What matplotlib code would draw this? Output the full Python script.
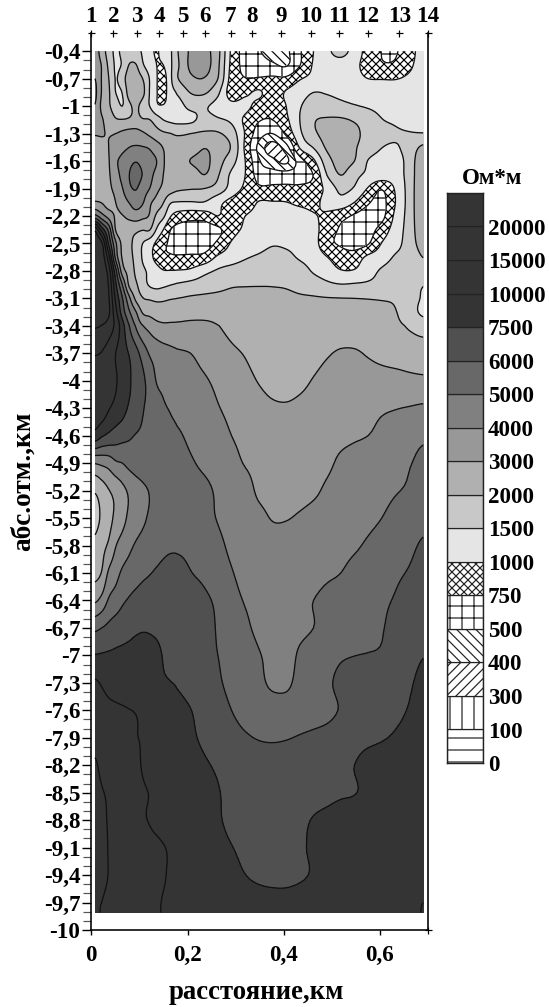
import numpy as np
import matplotlib
matplotlib.use('Agg')
from matplotlib import pyplot as plt

W, H = 549, 1007
DPI = 144

plt.rcParams['font.family'] = ['Liberation Serif', 'DejaVu Serif']
plt.rcParams['font.weight'] = 'bold'
plt.rcParams['hatch.linewidth'] = 0.6
plt.rcParams['hatch.color'] = 'black'

# distance along profile, km
dist = [.0077, .0215, .0361, .0506, .0644, .0790, .0928, .1067, .1212, .1358, .1496,
        .1641, .1780, .2064, .2348, .2631, .2915, .3199, .3483, .3767, .4051, .4334,
        .4618, .4902, .5186, .5470, .5753, .6037, .6321, .6605, .6896]

# elevation of the rows, km
elev = [-0.4, -0.55, -0.7, -0.85, -1.0, -1.15, -1.3, -1.45, -1.6, -1.75, -1.9, -2.05,
        -2.2, -2.35, -2.5, -2.65, -2.8, -2.95, -3.1, -3.25, -3.4,
        -3.7, -4.0, -4.3, -4.6, -4.9, -5.2, -5.5, -5.8, -6.1, -6.4, -6.7, -7.0, -7.3,
        -7.6, -7.9, -8.2, -8.5, -8.8, -9.1, -9.4, -9.7, -9.81]

# resistivity, Ohm*m, one row per elevation
rho = [
    [3400, 2600, 1750, 1420, 1600, 1700, 1600, 1450, 1150, 980, 1200, 1420, 1950, 3150, 3300, 2300, 950, 650, 520, 460, 480, 720, 1000, 1400, 1650, 1300, 900, 745, 730, 900, 1200],
    [3400, 2950, 1900, 1440, 1550, 2050, 2050, 1560, 1250, 1000, 1000, 1400, 1900, 3200, 3400, 2200, 930, 680, 620, 540, 490, 740, 1050, 1250, 1300, 1120, 900, 780, 790, 950, 1200],
    [4000, 2950, 2020, 1480, 1800, 2500, 2500, 2000, 1480, 1030, 900, 1380, 1950, 2800, 2950, 2000, 900, 760, 770, 790, 800, 980, 1120, 1200, 1250, 1150, 1000, 990, 990, 1080, 1200],
    [4200, 2950, 2150, 1500, 1520, 2500, 2900, 2300, 1480, 1030, 900, 1300, 1550, 2050, 2150, 1600, 880, 950, 1060, 880, 1050, 1300, 1500, 1470, 1420, 1350, 1300, 1250, 1200, 1200, 1200],
    [3950, 2800, 2150, 1750, 1500, 1900, 2200, 1800, 1500, 1080, 1040, 1180, 1300, 1620, 1560, 1350, 1150, 1130, 910, 840, 1000, 1460, 1680, 1640, 1600, 1530, 1450, 1350, 1260, 1200, 1200],
    [3400, 3100, 2550, 2100, 2050, 2120, 2300, 2080, 2020, 1750, 1500, 1400, 1350, 1400, 1650, 1560, 1400, 950, 770, 750, 950, 1500, 1950, 2120, 2120, 1950, 1780, 1520, 1420, 1320, 1260],
    [3050, 3050, 2950, 3000, 3200, 3400, 3400, 3150, 2800, 2400, 2150, 2020, 1950, 2000, 2150, 2100, 1750, 980, 620, 500, 800, 1400, 1900, 2300, 2400, 2200, 1850, 1700, 1560, 1530, 1520],
    [2700, 2800, 3000, 3300, 3700, 4000, 4100, 4050, 3900, 3450, 2950, 2500, 2250, 2300, 2950, 2500, 1950, 950, 470, 350, 460, 1050, 1530, 2150, 2450, 2100, 1750, 1510, 1450, 1700, 2200],
    [2600, 2750, 2950, 3800, 4300, 4700, 4950, 4650, 4300, 4000, 3100, 2600, 2300, 3050, 3300, 2400, 1700, 1000, 530, 430, 380, 640, 950, 1800, 2350, 2000, 1480, 1350, 1300, 1700, 2800],
    [2500, 2700, 2900, 3600, 4300, 5000, 5400, 4950, 4300, 3700, 3000, 2500, 2200, 2300, 3000, 2100, 1400, 1000, 640, 620, 620, 640, 760, 1520, 2020, 1650, 1400, 1300, 1280, 1700, 2900],
    [2350, 2550, 2800, 3300, 3950, 4800, 5050, 4500, 4000, 3250, 2800, 2450, 2150, 2050, 2000, 1800, 1300, 950, 800, 800, 800, 800, 850, 1150, 1620, 1450, 980, 770, 1060, 1700, 2900],
    [3100, 2950, 2600, 3000, 3500, 4050, 4500, 4100, 3200, 2650, 2050, 1560, 1480, 1470, 1480, 1150, 920, 850, 1030, 1030, 1010, 930, 920, 1200, 1330, 1000, 780, 680, 1000, 1700, 2900],
    [5300, 4400, 3600, 2900, 2950, 3300, 3500, 3250, 2900, 1900, 1600, 1050, 900, 850, 870, 1000, 850, 1000, 1200, 1320, 1350, 1300, 1050, 950, 830, 720, 650, 680, 1120, 1700, 2900],
    [19000, 9000, 5700, 2950, 2450, 2300, 2200, 2050, 2050, 1450, 1000, 760, 680, 620, 600, 700, 900, 1100, 1300, 1380, 1400, 1350, 1150, 880, 720, 660, 660, 850, 1250, 1700, 2800],
    [24000, 21000, 7300, 4200, 2750, 2200, 1850, 1500, 1250, 950, 800, 720, 650, 600, 620, 800, 1050, 1300, 1380, 1470, 1450, 1400, 1200, 820, 720, 640, 730, 1020, 1350, 1700, 2500],
    [25000, 23000, 12000, 4700, 2900, 2300, 1850, 1450, 1150, 920, 800, 780, 780, 800, 830, 1080, 1250, 1450, 1560, 1650, 1600, 1450, 1300, 1010, 880, 880, 1100, 1280, 1550, 1650, 2020],
    [25000, 24000, 17500, 6500, 3500, 2650, 1900, 1600, 1400, 1180, 1030, 1020, 1030, 1090, 1350, 1560, 1700, 1800, 1900, 1950, 1850, 1700, 1450, 1250, 1030, 1040, 1300, 1560, 1700, 1800, 1800],
    [25000, 25000, 19500, 8000, 5000, 2800, 2150, 1700, 1450, 1350, 1400, 1480, 1550, 1650, 1750, 1850, 1950, 1970, 1980, 1980, 1950, 1850, 1750, 1600, 1520, 1550, 1580, 1650, 1700, 1700, 1520],
    [25000, 25000, 20500, 9500, 6100, 4200, 2750, 2050, 1950, 1900, 1920, 1970, 2000, 2130, 2200, 2250, 2300, 2350, 2350, 2320, 2270, 2150, 2100, 2050, 2020, 2000, 1980, 1950, 1920, 1750, 1450],
    [25000, 25000, 21000, 11500, 6800, 5100, 4050, 2900, 2700, 2500, 2450, 2500, 2550, 2650, 2700, 2750, 2750, 2800, 2800, 2750, 2700, 2600, 2600, 2580, 2550, 2500, 2500, 2450, 2050, 1750, 1400],
    [20500, 19800, 17500, 13800, 8500, 6000, 4900, 4050, 3700, 3350, 3200, 3200, 3200, 3250, 3200, 3020, 2800, 2700, 2600, 2580, 2550, 2550, 2500, 2500, 2500, 2480, 2450, 2350, 2200, 1950, 1800],
    [15200, 14800, 13000, 10000, 8500, 7400, 6500, 5600, 4900, 4600, 4400, 4250, 4120, 4000, 3700, 3450, 3150, 2950, 2700, 2550, 2500, 2550, 2700, 2920, 3100, 3100, 2920, 2750, 2650, 2600, 2550],
    [14500, 14000, 12500, 10500, 9000, 7800, 6900, 6300, 5600, 4950, 4800, 4650, 4500, 4300, 4100, 3800, 3500, 3250, 2950, 2700, 2650, 2800, 3050, 3300, 3500, 3500, 3400, 3350, 3300, 3200, 3150],
    [13500, 13000, 10400, 9300, 8400, 7300, 6900, 6100, 5800, 5400, 5100, 4950, 4800, 4600, 4400, 4050, 3800, 3600, 3350, 3150, 3100, 3200, 3350, 3500, 3600, 3700, 3800, 3900, 3970, 4050, 4150],
    [9000, 7800, 7200, 6800, 6500, 6200, 5950, 5850, 5700, 5550, 5350, 5200, 5100, 4850, 4600, 4300, 4000, 3800, 3600, 3500, 3450, 3450, 3550, 3700, 3800, 3900, 4000, 4200, 4400, 4650, 4850],
    [4050, 4200, 4400, 4850, 5000, 5300, 5500, 5600, 5650, 5600, 5500, 5400, 5300, 5100, 4800, 4500, 4250, 3950, 3750, 3650, 3600, 3600, 3700, 3850, 4150, 4350, 4500, 4650, 4800, 4950, 5200],
    [2100, 2500, 2950, 3300, 3750, 4150, 4500, 4800, 5050, 5300, 5450, 5550, 5600, 5500, 5250, 4850, 4600, 4350, 3850, 3700, 3650, 3700, 3850, 4150, 4400, 4600, 4750, 4800, 4950, 5100, 5400],
    [1850, 2150, 2700, 3200, 3700, 4200, 4550, 4850, 5100, 5250, 5400, 5500, 5600, 5700, 5300, 4950, 4700, 4500, 4250, 3950, 3960, 4100, 4300, 4500, 4600, 4750, 4850, 5000, 5250, 5500, 5750],
    [2250, 2700, 3150, 3950, 4400, 4800, 5100, 5300, 5450, 5550, 5700, 5800, 5850, 5800, 5700, 5200, 4850, 4650, 4500, 4400, 4350, 4400, 4500, 4600, 4750, 4900, 5100, 5300, 5500, 5800, 6150],
    [2700, 3050, 4150, 4650, 5150, 5400, 5600, 5800, 5950, 6200, 6500, 6800, 6600, 6050, 5800, 5400, 5050, 4750, 4650, 4600, 4550, 4550, 4650, 4850, 5000, 5250, 5450, 5600, 5850, 6100, 6500],
    [3850, 4300, 5100, 5450, 5850, 6150, 6450, 6700, 6900, 7100, 7200, 7250, 7200, 6800, 6300, 5800, 5300, 4950, 4850, 4750, 4750, 4850, 5000, 5250, 5400, 5500, 5650, 5850, 6100, 6500, 6800],
    [5800, 6000, 6350, 6700, 6900, 7100, 7300, 7400, 7400, 7350, 7300, 7300, 7300, 7050, 6700, 5900, 5550, 5150, 4850, 4800, 4800, 4850, 5000, 5300, 5500, 5700, 5800, 5950, 6400, 6800, 7000],
    [7600, 7700, 7800, 7900, 8000, 8100, 8200, 8200, 8000, 7800, 7450, 7200, 7000, 6700, 6400, 6000, 5750, 5450, 5050, 4850, 4750, 5100, 5400, 5650, 5900, 5990, 6050, 6150, 6500, 7000, 7450],
    [10600, 9800, 9300, 9000, 8800, 8600, 8400, 8200, 8000, 7900, 7700, 7550, 7400, 7000, 6600, 6150, 5800, 5500, 5200, 4850, 4850, 5250, 5500, 5850, 6300, 6600, 6800, 7000, 7200, 7350, 8100],
    [12000, 11500, 11000, 10700, 10400, 10100, 9900, 9600, 9300, 9000, 8700, 8400, 8100, 7550, 7000, 6500, 6000, 5700, 5550, 5450, 5400, 5450, 5550, 5750, 6100, 6500, 6800, 7100, 7350, 7600, 8500],
    [13500, 13000, 12500, 11800, 11000, 10500, 10100, 9900, 9600, 9300, 9000, 8700, 8400, 7800, 7300, 6900, 6500, 6150, 5950, 5900, 5950, 6100, 6300, 6500, 6800, 7000, 7200, 7400, 7700, 8000, 8600],
    [15500, 14000, 13000, 12300, 11700, 11000, 10500, 9900, 9500, 9200, 8900, 8700, 8400, 8100, 7700, 7350, 7000, 6800, 6700, 6700, 6700, 6750, 6900, 7100, 7300, 7500, 8300, 8700, 9000, 9200, 9400],
    [16500, 15300, 14500, 13500, 12500, 11500, 10800, 10300, 9950, 9600, 9300, 9000, 8800, 8400, 8000, 7600, 7200, 7000, 6900, 6900, 6950, 7000, 7100, 7200, 7350, 7450, 8000, 8800, 9100, 9300, 9500],
    [17000, 15800, 14700, 13500, 12300, 11300, 10700, 10300, 9900, 9500, 9200, 9000, 8800, 8400, 8000, 7650, 7300, 7150, 7050, 7050, 7100, 7300, 7600, 8000, 8500, 8800, 9000, 9200, 9300, 9400, 9500],
    [17500, 16500, 14800, 14000, 13300, 12700, 12200, 11700, 11200, 10800, 10200, 9800, 9600, 9100, 8600, 8000, 7550, 7300, 7150, 7100, 7150, 7350, 7800, 8400, 8800, 9100, 9300, 9400, 9500, 9500, 9500],
    [17500, 16000, 14900, 14200, 13500, 13000, 12500, 12000, 11500, 11000, 10300, 9800, 9600, 9300, 8900, 8400, 8000, 7520, 7300, 7200, 7200, 7350, 7700, 8400, 8800, 9100, 9300, 9500, 9600, 9700, 9800],
    [15800, 15000, 14400, 13800, 13200, 12700, 12200, 11800, 11200, 10500, 9900, 9700, 9500, 9300, 9100, 8900, 8700, 8400, 8200, 8100, 8100, 8300, 8600, 8900, 9100, 9300, 9400, 9500, 9600, 9700, 10000],
    [15600, 14800, 14200, 13600, 13100, 12600, 12100, 11700, 11100, 10400, 9900, 9700, 9500, 9300, 9100, 8900, 8700, 8500, 8300, 8200, 8200, 8400, 8700, 9000, 9200, 9400, 9500, 9600, 9700, 9800, 10050],
]

# legend classes, Ohm*m
levels = [0, 100, 300, 400, 500, 750, 1000, 1500, 2000, 3000, 4000, 5000, 6000, 7500, 10000, 15000, 20000, 25000]
level_labels = ['0', '100', '300', '400', '500', '750', '1000', '1500', '2000', '3000', '4000', '5000',
                '6000', '7500', '10000', '15000', '20000']
band_colors = ['white', 'white', 'white', 'white', 'white', 'white', '#e5e5e5', '#c8c8c8', '#b0b0b0', '#989898',
               '#808080', '#686868', '#505050', '#343434', '#343434', '#343434', '#343434']
band_hatches = ['--', '||', '/////', '\\\\\\\\\\', '++', 'xxxxxx', None, None, None, None, None, None, None, None, None, None, None]

# station numbers along the top
station_x = [0, .046, .094, .141, .190, .237, .290, .334, .395, .456, .515, .575, .640, .70]
station_names = ['1', '2', '3', '4', '5', '6', '7', '8', '9', '10', '11', '12', '13', '14']

y_ticks = [-0.4, -0.7, -1, -1.3, -1.6, -1.9, -2.2, -2.5, -2.8, -3.1, -3.4, -3.7, -4, -4.3, -4.6, -4.9, -5.2, -5.5,
           -5.8, -6.1, -6.4, -6.7, -7, -7.3, -7.6, -7.9, -8.2, -8.5, -8.8, -9.1, -9.4, -9.7, -10]
y_labels = ['-0,4', '-0,7', '-1', '-1,3', '-1,6', '-1,9', '-2,2', '-2,5', '-2,8', '-3,1', '-3,4', '-3,7', '-4', '-4,3',
            '-4,6', '-4,9', '-5,2', '-5,5', '-5,8', '-6,1', '-6,4', '-6,7', '-7', '-7,3', '-7,6', '-7,9', '-8,2',
            '-8,5', '-8,8', '-9,1', '-9,4', '-9,7', '-10']
x_ticks = [0, 0.2, 0.4, 0.6]
x_labels = ['0', '0,2', '0,4', '0,6']


def axes_px(fig, left, top, right, bottom):
    ''' Adds axes from a box given in image pixels '''
    return fig.add_axes([left / W, 1 - bottom / H, (right - left) / W, (bottom - top) / H])


def upsample(a, factor, axis):
    ''' Catmull-Rom resampling along one axis, only so the contour lines come out round '''
    a = np.moveaxis(a, axis, 0)
    n = a.shape[0]
    t = np.linspace(0, n - 1, (n - 1) * factor + 1)
    i = np.clip(t.astype(int), 0, n - 2)
    u = (t - i).reshape(-1, *([1] * (a.ndim - 1)))
    p0, p1, p2, p3 = a[np.maximum(i - 1, 0)], a[i], a[i + 1], a[np.minimum(i + 2, n - 1)]
    out = 0.5 * (2 * p1 + (p2 - p0) * u + (2 * p0 - 5 * p1 + 4 * p2 - p3) * u ** 2
                 + (3 * p1 - p0 - 3 * p2 + p3) * u ** 3)
    return np.moveaxis(out, 0, axis)


fig = plt.figure(figsize=((W + 0.1) / DPI, (H + 0.1) / DPI), dpi=DPI)
ax = axes_px(fig, 91.3, 33, 428, 930)

# contour in class number, the classes are not evenly spaced in Ohm*m
class_no = np.interp(np.array(rho, dtype=float), levels, np.arange(len(levels)))
factor = 6
fine = upsample(upsample(class_no, factor, 0), factor, 1)
xi = np.interp(np.linspace(0, len(dist) - 1, (len(dist) - 1) * factor + 1), np.arange(len(dist)), dist)
yi = np.interp(np.linspace(0, len(elev) - 1, (len(elev) - 1) * factor + 1), np.arange(len(elev)), elev)
fine = np.clip(fine, 0, len(levels) - 1.001)

ax.contourf(xi, yi, fine, levels=np.arange(len(levels)), colors=band_colors, hatches=band_hatches)
ax.contour(xi, yi, fine, levels=np.arange(1, len(levels) - 1), colors='#111111', linewidths=0.65)

ax.set_xlim(0, 0.70)
ax.set_ylim(-10, -0.2)
ax.spines['top'].set_visible(False)
for side in ['left', 'right', 'bottom']:
    ax.spines[side].set_linewidth(0.8)

ax.set_yticks(y_ticks)
ax.set_yticklabels(y_labels, fontsize=11.5, fontweight='bold')
ax.set_yticks(np.arange(-9.9, -0.4, 0.1), minor=True)
ax.tick_params(axis='y', which='major', length=4.5, width=0.7, pad=1)
ax.tick_params(axis='y', which='minor', length=4, width=0.6, color='#555555')
ax.set_xticks(x_ticks)
ax.set_xticklabels(x_labels, fontsize=11.5, fontweight='bold')
ax.tick_params(axis='x', length=2.5, width=0.7, pad=5)

# station crosses and numbers
ax.plot(station_x, [-0.2] * len(station_x), '+', color='black', ms=3.5, mew=0.6, clip_on=False)
for sx, name in zip(station_x, station_names):
    ax.annotate(name, (sx, -0.2), xytext=(0, 3), textcoords='offset points', ha='center', va='bottom',
                fontsize=11.5, fontweight='bold', annotation_clip=False)
ax.plot([0.70], [-10], '+', color='black', ms=3.5, mew=0.6, clip_on=False)

fig.text(256 / W, 1 - 992 / H, 'расстояние,км', ha='center', va='center', fontsize=13.4, fontweight='bold')
fig.text(23 / W, 1 - 481 / H, 'абс.отм.,км', ha='center', va='center', rotation=90, fontsize=13.6, fontweight='bold')

# legend column
leg = axes_px(fig, 447, 193, 483, 763)
n_bands = len(band_colors)
for i in range(n_bands):
    leg.bar(0, 1, bottom=i, width=1, color=band_colors[i], hatch=band_hatches[i], edgecolor='#222222', linewidth=0.6)
leg.set_xlim(-0.5, 0.5)
leg.set_ylim(0, n_bands)
leg.set_xticks([])
leg.yaxis.tick_right()
leg.set_yticks(np.arange(len(level_labels)))
leg.set_yticklabels(level_labels, fontsize=11.5, fontweight='bold')
leg.tick_params(axis='y', length=0, pad=2.5)
for spine in leg.spines.values():
    spine.set_linewidth(0.7)
    spine.set_color('#222222')

fig.text(492 / W, 1 - 178 / H, 'Ом*м', ha='center', va='center', fontsize=11.5, fontweight='bold')

fig.savefig('out.png', dpi=DPI)
